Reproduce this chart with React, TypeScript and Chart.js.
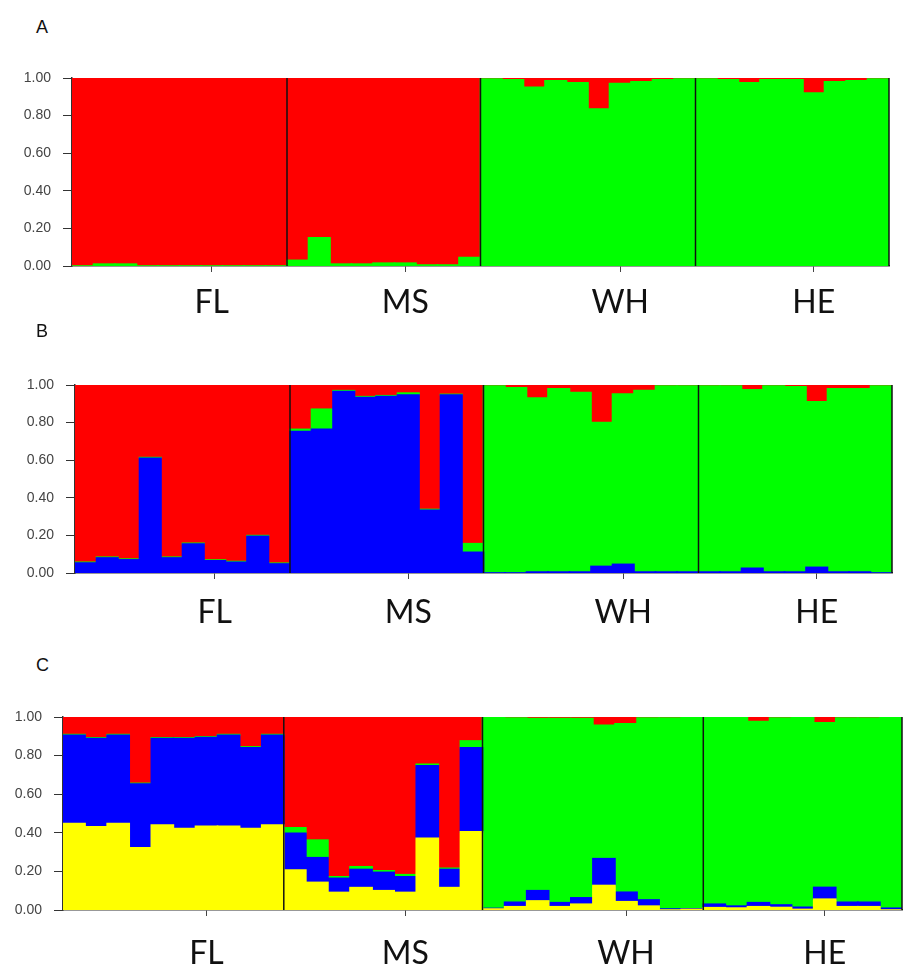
import React, { useEffect, useRef } from 'react';
import { Chart, registerables } from 'chart.js';
Chart.register(...registerables);

// Populations and individuals
const groups = ['FL', 'MS', 'WH', 'HE'];
const groupSizes = [10, 9, 10, 9];
const groupLabelBars = [6, 15, 25, 34];
const groupBoundaries = [10, 19, 29];
const yTickValues = [0, 0.2, 0.4, 0.6, 0.8, 1.0];

// Panel A (K=2)
const aGreen = [
  0, 0.01, 0.01, 0, 0, 0, 0, 0, 0, 0,
  0.03, 0.15, 0.01, 0.01, 0.015, 0.015, 0.005, 0.005, 0.045,
  0.995, 0.99, 0.95, 0.985, 0.975, 0.835, 0.97, 0.98, 0.99, 0.995,
  0.995, 0.99, 0.975, 0.99, 0.99, 0.92, 0.98, 0.985, 0.995,
];
const aRed = [
  1, 0.99, 0.99, 1, 1, 1, 1, 1, 1, 1,
  0.97, 0.85, 0.99, 0.99, 0.985, 0.985, 0.995, 0.995, 0.955,
  0.005, 0.01, 0.05, 0.015, 0.025, 0.165, 0.03, 0.02, 0.01, 0.005,
  0.005, 0.01, 0.025, 0.01, 0.01, 0.08, 0.02, 0.015, 0.005,
];

// Panel B (K=3)
const bBlue = [
  0.053, 0.08, 0.07, 0.61, 0.08, 0.154, 0.065, 0.057, 0.195, 0.048,
  0.752, 0.765, 0.965, 0.933, 0.938, 0.947, 0.333, 0.947, 0.11,
  0, 0, 0.005, 0.005, 0.005, 0.035, 0.046, 0.005, 0.005, 0.005,
  0.005, 0.005, 0.025, 0.005, 0.005, 0.03, 0.005, 0.005, 0,
];
const bGreen = [
  0.004, 0.004, 0.004, 0.004, 0.004, 0.004, 0.004, 0.004, 0.004, 0.004,
  0.012, 0.106, 0.005, 0.005, 0.005, 0.01, 0.005, 0.003, 0.046,
  0.995, 0.985, 0.925, 0.975, 0.955, 0.765, 0.906, 0.965, 0.99, 0.99,
  0.99, 0.99, 0.95, 0.99, 0.985, 0.88, 0.975, 0.975, 0.995,
];
const bRed = [
  0.943, 0.916, 0.926, 0.386, 0.916, 0.842, 0.931, 0.939, 0.801, 0.948,
  0.236, 0.129, 0.03, 0.062, 0.057, 0.043, 0.662, 0.05, 0.844,
  0.005, 0.015, 0.07, 0.02, 0.04, 0.2, 0.048, 0.03, 0.005, 0.005,
  0.005, 0.005, 0.025, 0.005, 0.01, 0.09, 0.02, 0.02, 0.005,
];

// Panel C (K=4)
const cYellow = [
  0.448, 0.431, 0.448, 0.322, 0.44, 0.422, 0.434, 0.434, 0.422, 0.44,
  0.207, 0.143, 0.091, 0.116, 0.1, 0.091, 0.371, 0.116, 0.405,
  0.005, 0.017, 0.047, 0.017, 0.03, 0.127, 0.043, 0.02, 0, 0.003,
  0.012, 0.01, 0.017, 0.013, 0.003, 0.056, 0.017, 0.017, 0,
];
const cBlue = [
  0.457, 0.457, 0.457, 0.33, 0.448, 0.466, 0.459, 0.471, 0.419, 0.465,
  0.19, 0.128, 0.073, 0.094, 0.095, 0.081, 0.376, 0.094, 0.435,
  0.003, 0.023, 0.053, 0.021, 0.033, 0.139, 0.049, 0.032, 0.005, 0.003,
  0.018, 0.01, 0.021, 0.013, 0.011, 0.061, 0.023, 0.023, 0.009,
];
const cGreen = [
  0.004, 0.004, 0.004, 0.004, 0.004, 0.004, 0.004, 0.004, 0.004, 0.004,
  0.029, 0.091, 0.008, 0.014, 0.008, 0.011, 0.008, 0.006, 0.036,
  0.989, 0.955, 0.892, 0.954, 0.929, 0.691, 0.873, 0.943, 0.99, 0.991,
  0.967, 0.977, 0.939, 0.969, 0.983, 0.853, 0.955, 0.955, 0.989,
];
const cRed = [
  0.091, 0.108, 0.091, 0.344, 0.108, 0.108, 0.103, 0.091, 0.155, 0.091,
  0.574, 0.638, 0.828, 0.776, 0.797, 0.817, 0.245, 0.784, 0.124,
  0.003, 0.005, 0.008, 0.008, 0.008, 0.043, 0.035, 0.005, 0.005, 0.003,
  0.003, 0.003, 0.023, 0.005, 0.003, 0.03, 0.005, 0.005, 0.002,
];

const RED = '#FF0000';
const GREEN = '#00FF00';
const BLUE = '#0000FF';
const YELLOW = '#FFFF00';

const totalBars = groupSizes.reduce((a, b) => a + b, 0);
const individuals = Array.from({ length: totalBars }, (_, i) => String(i + 1));

type Series = { data: number[]; color: string; name: string };
type PanelSpec = {
  letter: string;
  top: number;
  height: number;
  left: number;
  right: number;
  plotTop: number;
  plotBottom: number;
  labelPad: number;
  letterTop: number;
  series: Series[];
};

const W = 915;

const panels: PanelSpec[] = [
  {
    letter: 'A', top: 0, height: 325, left: 72, right: 889, plotTop: 78, plotBottom: 266, labelPad: 11, letterTop: 18,
    series: [
      { name: 'K1', data: aGreen, color: GREEN },
      { name: 'K2', data: aRed, color: RED },
    ],
  },
  {
    letter: 'B', top: 325, height: 315, left: 75, right: 892, plotTop: 60, plotBottom: 248, labelPad: 14, letterTop: 322,
    series: [
      { name: 'K1', data: bBlue, color: BLUE },
      { name: 'K2', data: bGreen, color: GREEN },
      { name: 'K3', data: bRed, color: RED },
    ],
  },
  {
    letter: 'C', top: 640, height: 328, left: 63, right: 902, plotTop: 77, plotBottom: 270, labelPad: 18, letterTop: 656,
    series: [
      { name: 'K1', data: cYellow, color: YELLOW },
      { name: 'K2', data: cBlue, color: BLUE },
      { name: 'K3', data: cGreen, color: GREEN },
      { name: 'K4', data: cRed, color: RED },
    ],
  },
];

const separatorPlugin = {
  id: 'separators',
  afterDatasetsDraw(chart: any) {
    const { ctx, chartArea, scales } = chart;
    const x = scales.x;
    const half = (x.getPixelForValue(1) - x.getPixelForValue(0)) / 2;
    ctx.save();
    ctx.strokeStyle = '#111';
    ctx.lineWidth = 1.5;
    for (const b of groupBoundaries) {
      const px = x.getPixelForValue(b) - half;
      ctx.beginPath();
      ctx.moveTo(px, chartArea.top);
      ctx.lineTo(px, chartArea.bottom);
      ctx.stroke();
    }
    ctx.beginPath();
    ctx.moveTo(chartArea.right, chartArea.top);
    ctx.lineTo(chartArea.right, chartArea.bottom);
    ctx.stroke();
    ctx.restore();
  },
};

function Panel({ spec }: { spec: PanelSpec }) {
  const ref = useRef<HTMLCanvasElement | null>(null);
  useEffect(() => {
    if (!ref.current) return;
    const chart = new Chart(ref.current, {
      type: 'bar',
      data: {
        labels: individuals,
        datasets: spec.series.map((s) => ({
          label: s.name,
          data: s.data,
          backgroundColor: s.color,
          borderWidth: 0,
          inflateAmount: 0.8,
          categoryPercentage: 1,
          barPercentage: 1,
        })),
      },
      options: {
        responsive: false,
        animation: false,
        events: [],
        layout: {
          padding: { top: spec.plotTop, right: W - spec.right, left: 0, bottom: 0 },
        },
        plugins: {
          legend: { display: false },
          tooltip: { enabled: false },
          title: { display: false },
        },
        scales: {
          x: {
            stacked: true,
            afterFit: (s: any) => {
              s.height = spec.height - spec.plotBottom;
            },
            grid: {
              offset: false,
              drawOnChartArea: false,
              drawTicks: true,
              tickLength: 6,
              tickColor: (c: any) => (groupLabelBars.includes(c.index) ? '#444' : 'rgba(0,0,0,0)'),
            },
            border: { display: true, color: '#333', width: 1.5 },
            ticks: {
              autoSkip: false,
              maxRotation: 0,
              minRotation: 0,
              padding: spec.labelPad,
              color: '#111',
              font: { family: 'Lato, "Open Sans", sans-serif', size: 32 },
              callback: (_v: any, i: number) => {
                const g = groupLabelBars.indexOf(i);
                return g >= 0 ? groups[g] : '';
              },
            },
          },
          y: {
            stacked: true,
            min: 0,
            max: 1,
            afterFit: (s: any) => {
              s.width = spec.left;
            },
            afterBuildTicks: (s: any) => {
              s.ticks = yTickValues.map((v) => ({ value: v }));
            },
            grid: {
              drawOnChartArea: false,
              drawTicks: true,
              tickLength: 9,
              tickColor: '#333',
            },
            border: { display: true, color: '#333', width: 1.5 },
            ticks: {
              padding: 12,
              color: '#444',
              font: { family: '"Liberation Sans", Arial, sans-serif', size: 14 },
              callback: (v: any) => Number(v).toFixed(2),
            },
          },
        },
      },
      plugins: [separatorPlugin],
    } as any);
    return () => chart.destroy();
  }, [spec]);

  return (
    <>
      <div
        style={{
          position: 'absolute',
          left: 36,
          top: spec.letterTop,
          fontFamily: '"Liberation Sans", Arial, sans-serif',
          fontSize: 18,
          lineHeight: '18px',
          color: '#111',
        }}
      >
        {spec.letter}
      </div>
      <canvas
        ref={ref}
        width={W}
        height={spec.height}
        style={{ position: 'absolute', left: 0, top: spec.top, width: W, height: spec.height, display: 'block' }}
      />
    </>
  );
}

export default function App() {
  return (
    <div
      style={{
        position: 'fixed',
        left: 0,
        top: 0,
        width: W,
        height: 968,
        background: '#fff',
        overflow: 'hidden',
      }}
    >
      {panels.map((p) => (
        <Panel key={p.letter} spec={p} />
      ))}
    </div>
  );
}
